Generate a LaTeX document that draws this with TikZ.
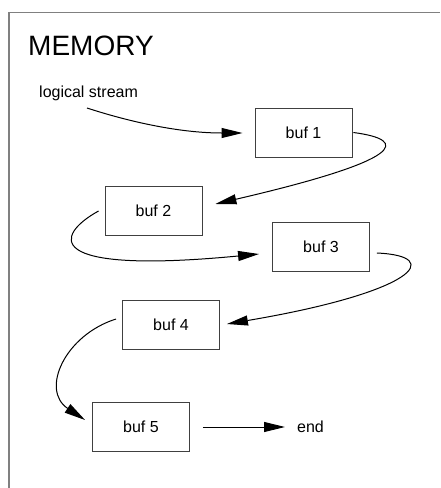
\documentclass[tikz,border=0pt]{standalone}
\usepackage{fontspec}
\setmainfont{Liberation Sans}
\usetikzlibrary{arrows.meta}
\begin{document}
\begin{tikzpicture}[x=1pt,y=-1pt,
  bufbox/.style={draw=black!75, line width=0.9pt, minimum width=97pt,
    minimum height=49pt, inner sep=0pt, font=\fontsize{16}{19}\selectfont},
  txt/.style={inner sep=0pt, font=\fontsize{16}{19}\selectfont},
  link/.style={line width=1pt, -{Triangle[length=21pt,width=10pt]}}
]
\useasboundingbox (0,0) rectangle (440,488);

% memory region frame (continues past the page edges)
\draw[black!50, line width=1.3pt] (9,488) -- (9,12.5) -- (440,12.5);
\node[anchor=base west, inner sep=0pt, font=\fontsize{28}{32}\selectfont] (mem) at (28,55) {MEMORY};

% stream label and buffers
\node[txt, anchor=base west] (ls) at (39,97) {logical stream};
\coordinate (s0) at (87,108);
\node[bufbox] (b1) at (303.5,132.5) {buf 1};
\node[bufbox] (b2) at (153.5,211) {buf 2};
\node[bufbox] (b3) at (321,247) {buf 3};
\node[bufbox] (b4) at (171,325) {buf 4};
\node[bufbox] (b5) at (141,427) {buf 5};
\node[txt, anchor=west] (end) at (297,427) {end};

% chain of buffers
\draw[link] (s0) .. controls (130,122) and (180,133) .. ([shift={(-12,0.5)}]b1.west);
\draw[link] ([xshift=1]b1.east) .. controls (410,140) and (405,160) .. ([shift={(13,-7)}]b2.east);
\draw[link] ([xshift=-6]b2.west) .. controls (55,235) and (40,275) .. ([shift={(-13,7)}]b3.west);
\draw[link] ([shift={(7,6)}]b3.east) .. controls (445,256) and (416,292) .. ([shift={(7,-1)}]b4.east);
\draw[link] ([shift={(-6,-6)}]b4.west) .. controls (65,335) and (40,390) .. ([shift={(-7,-7)}]b5.west);
\draw[link] ([xshift=13]b5.east) -- ([xshift=-12]end.west);
\end{tikzpicture}
\end{document}
